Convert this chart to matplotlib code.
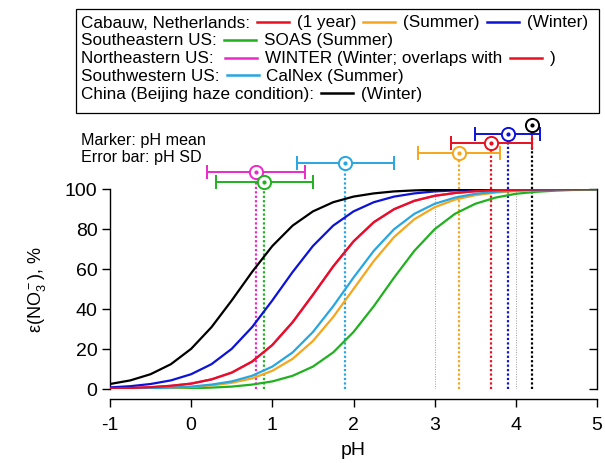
import matplotlib
matplotlib.use("Agg")
import matplotlib.pyplot as plt
from matplotlib.lines import Line2D
from matplotlib.patches import Rectangle

plt.rcParams["font.family"] = ["Liberation Sans", "DejaVu Sans"]
plt.rcParams["mathtext.fontset"] = "custom"
plt.rcParams["mathtext.rm"] = "Liberation Sans"
plt.rcParams["mathtext.it"] = "Liberation Sans:italic"

    #========= DATA ======================================================#

PH = [-1.0, -0.75, -0.5, -0.25, 0.0, 0.25, 0.5, 0.75, 1.0, 1.25, 1.5, 1.75,
      2.0, 2.25, 2.5, 2.75, 3.0, 3.25, 3.5, 3.75, 4.0, 4.25, 4.5, 4.75, 5.0]

# epsilon(NO3-) in % at each PH value
EPS_CABAUW_YEAR = [0.3, 0.5, 0.9, 1.6, 2.7, 4.8, 8.2, 13.7, 22.0, 33.4, 47.1, 61.3,
                   73.8, 83.4, 89.9, 94.1, 96.6, 98.0, 98.9, 99.4, 99.6, 99.8, 99.9, 99.9, 100.0]
EPS_CABAUW_SUMMER = [0.1, 0.2, 0.3, 0.6, 1.0, 1.8, 3.1, 5.3, 9.1, 15.1, 24.0, 36.0,
                     50.0, 64.0, 76.0, 84.9, 90.9, 94.7, 96.9, 98.2, 99.0, 99.4, 99.7, 99.8, 99.9]
EPS_CABAUW_WINTER = [0.8, 1.4, 2.5, 4.3, 7.4, 12.4, 20.1, 30.9, 44.3, 58.5, 71.5, 81.7,
                     88.8, 93.4, 96.2, 97.8, 98.8, 99.3, 99.6, 99.8, 99.9, 99.9, 100.0, 100.0, 100.0]
EPS_SOAS = [0.0, 0.1, 0.1, 0.2, 0.4, 0.7, 1.2, 2.2, 3.8, 6.6, 11.2, 18.3,
            28.5, 41.4, 55.7, 69.1, 79.9, 87.6, 92.6, 95.7, 97.6, 98.6, 99.2, 99.6, 99.7]
EPS_WINTER = EPS_CABAUW_YEAR  # overlaps with Cabauw 1 year
EPS_CALNEX = [0.1, 0.2, 0.4, 0.7, 1.2, 2.2, 3.8, 6.6, 11.2, 18.3, 28.5, 41.4,
              55.7, 69.1, 79.9, 87.6, 92.6, 95.7, 97.6, 98.6, 99.2, 99.6, 99.7, 99.9, 99.9]
EPS_BEIJING = [2.5, 4.3, 7.4, 12.4, 20.1, 30.9, 44.3, 58.5, 71.5, 81.7, 88.8, 93.4,
               96.2, 97.8, 98.8, 99.3, 99.6, 99.8, 99.9, 99.9, 100.0, 100.0, 100.0, 100.0, 100.0]

NAMES = ["winter", "soas", "summer", "calnex", "cwinter", "beijing", "year"]
CURVES = [EPS_WINTER, EPS_SOAS, EPS_CABAUW_SUMMER, EPS_CALNEX,
          EPS_CABAUW_WINTER, EPS_BEIJING, EPS_CABAUW_YEAR]
PH_MEAN = [0.8, 0.9, 3.3, 1.9, 3.9, 4.2, 3.7]
PH_SD = [0.6, 0.6, 0.5, 0.6, 0.4, 0.0, 0.5]

    #========= STYLE =====================================================#

COLORS = {"year": "#e8101e", "summer": "#f5a61c", "cwinter": "#0c12d6",
          "soas": "#20b020", "winter": "#e82ac8", "calnex": "#28a6e0",
          "beijing": "#000000"}
MARKER_LEVEL = {"beijing": 132, "cwinter": 127.5, "year": 123, "summer": 118,
                "calnex": 113, "winter": 108.5, "soas": 103.5}

W, H = 605, 464
FS_LEG = 12.3
FS_NOTE = 11.6
FS_TICK = 14

    #========= FIGURE ====================================================#

fig = plt.figure(figsize=(W/100, H/100), dpi=100)
ax = fig.add_axes([110/W, 1-390/H, 487/W, 200/H])

for name, eps in zip(NAMES, CURVES):
    ax.plot(PH, eps, color=COLORS[name], lw=1.6, zorder=3)

for x in [3, 4]:
    ax.plot([x, x], [0, 100], color="#9a9a9a", lw=0.7, ls=(0, (1, 1.5)), zorder=1)

for name, m, sd in zip(NAMES, PH_MEAN, PH_SD):
    c = COLORS[name]
    lvl = MARKER_LEVEL[name]
    ax.plot([m, m], [0, lvl - 3], color=c, lw=1.6, ls=(0, (1, 1)), zorder=2, clip_on=False)
    if sd > 0:
        ax.errorbar([m], [lvl], xerr=[sd], fmt="none", ecolor=c, elinewidth=1.4,
                    capsize=5, capthick=1.4, clip_on=False, zorder=4)
    ax.plot([m], [lvl], marker="o", ms=9.5, mfc="white", mec=c, mew=1.4,
            clip_on=False, zorder=5)
    ax.plot([m], [lvl], marker="o", ms=2, color=c, clip_on=False, zorder=6)

ax.set_xlim(-1, 5)
ax.set_ylim(0, 100)
ax.set_xticks([-1, 0, 1, 2, 3, 4, 5])
ax.set_yticks([0, 20, 40, 60, 80, 100])
ax.set_xticklabels(["-1", "0", "1", "2", "3", "4", "5"])
ax.spines["top"].set_visible(False)
ax.spines["right"].set_visible(False)
ax.spines["bottom"].set_position(("outward", 7.5))
for s in ax.spines.values():
    s.set_linewidth(1.0)
ax.tick_params(axis="both", labelsize=FS_TICK, direction="out", length=6, width=1.0)
ax.tick_params(axis="x", pad=6)
ax.tick_params(axis="y", pad=3)
ax2 = ax.secondary_yaxis("right")
ax2.set_yticks([0, 20, 40, 60, 80, 100])
ax2.tick_params(direction="in", length=6, width=1.0, labelright=False)
ax2.spines["right"].set_linewidth(1.0)
ax.patch.set_alpha(0)

ax.set_xlabel("pH", fontsize=FS_TICK, labelpad=6)
ax.set_ylabel("ε(NO$_3^-$), %", fontsize=13, labelpad=12)

fig.text(81/W, 1-140/H, "Marker: pH mean", fontsize=FS_NOTE, va="center", ha="left")
fig.text(81/W, 1-158/H, "Error bar: pH SD", fontsize=FS_NOTE, va="center", ha="left")

    #========= LEGEND BOX ================================================#

fig.add_artist(Rectangle((76/W, 1-114/H), 523/W, 104/H, transform=fig.transFigure,
                         fill=False, ec="black", lw=0.9))
renderer = fig.canvas.get_renderer()
ROWS = [
    ["Cabauw, Netherlands:", "year", "(1 year)", "summer", "(Summer)", "cwinter", "(Winter)"],
    ["Southeastern US:", "soas", "SOAS (Summer)"],
    ["Northeastern US: ", "winter", "WINTER (Winter; overlaps with", "year", ")"],
    ["Southwestern US:", "calnex", "CalNex (Summer)"],
    ["China (Beijing haze condition):", "beijing", "(Winter)"],
]
for i, row in enumerate(ROWS):
    y = 1 - (23 + 17.8*i)/H
    x = 81
    for item in row:
        if item in COLORS:
            x += 7
            fig.add_artist(Line2D([x/W, (x+32)/W], [y, y], color=COLORS[item], lw=1.8,
                                  transform=fig.transFigure))
            x += 32 + 8
        else:
            t = fig.text(x/W, y, item, fontsize=FS_LEG, va="center", ha="left")
            x = t.get_window_extent(renderer).x1

fig.savefig("out.png", dpi=100)
